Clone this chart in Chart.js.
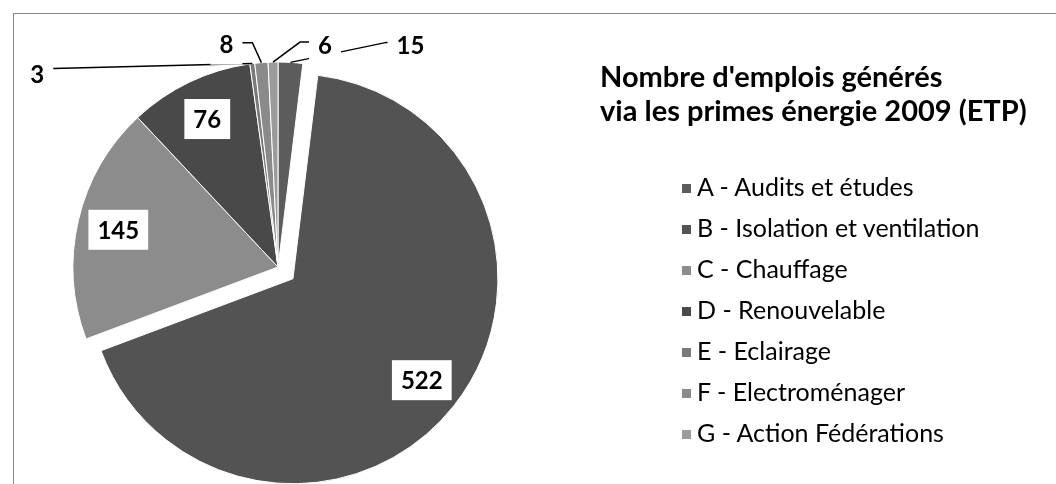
<!DOCTYPE html>
<html>
<head>
<meta charset="utf-8">
<script src="https://cdn.jsdelivr.net/npm/chart.js@4.4.0/dist/chart.umd.min.js"></script>
<style>
  body { margin: 0; background: #fff; }
  #wrap { position: relative; width: 1056px; height: 484px; overflow: hidden; }
  #frame { position: absolute; left: 13px; top: 13px; width: 1200px; height: 700px; border: 1.5px solid #878787; }
  #pie { position: absolute; left: 0; top: 0; }
  #title { position: absolute; left: 600px; top: 59px; font: bold 29px Lato, sans-serif; line-height: 34px; color: #000; white-space: nowrap; }
  #legend { position: absolute; left: 682px; top: 166px; margin: 0; padding: 0; list-style: none; font: 25px Lato, sans-serif; color: #000; }
  #legend li { height: 41px; line-height: 41px; white-space: nowrap; }
  #legend span { display: inline-block; width: 9px; height: 9px; margin-right: 6px; vertical-align: 3px; }
</style>
</head>
<body>
<div id="wrap">
  <div id="frame"></div>
  <canvas id="pie" width="1056" height="484"></canvas>
  <div id="title"></div>
  <ul id="legend"></ul>
</div>
<script>
  // Donnees du graphique
  const categories = [
    'A - Audits et études',
    'B - Isolation et ventilation',
    'C - Chauffage',
    'D - Renouvelable',
    'E - Eclairage',
    'F - Electroménager',
    'G - Action Fédérations'
  ];
  const emplois = [15, 522, 145, 76, 3, 8, 6];
  const titleLines = ["Nombre d'emplois générés", 'via les primes énergie 2009 (ETP)'];

  // Styles
  const colors = ['#5c5c5c', '#535353', '#8c8c8c', '#494949', '#7a7a7a', '#8a8a8a', '#9b9b9b'];
  const explode = [0, 19, 0, 0, 0, 0, 0];
  // etiquettes a l'exterieur : coude et centre du texte, relatifs au bord de la part
  const outside = {
    4: { elbow: [-199, 5], text: [-215, 11] },
    5: { elbow: [-9, -20], text: [-35, -18] },
    6: { elbow: [27, -20], text: [52, -17] },
    0: { elbow: [96, -20], text: [120, -17] }
  };

  document.getElementById('title').innerHTML = titleLines.join('<br>');
  document.getElementById('legend').innerHTML = categories.map((c, i) =>
    '<li><span style="background:' + colors[i] + '"></span>' + c + '</li>').join('');

  // Decaler la part eclatee sans changer son rayon
  const explodePlugin = {
    id: 'explode',
    afterDatasetsUpdate(chart) {
      chart.getDatasetMeta(0).data.forEach((arc, i) => {
        if (!explode[i]) return;
        const mid = (arc.startAngle + arc.endAngle) / 2;
        arc.x += Math.cos(mid) * explode[i];
        arc.y += Math.sin(mid) * explode[i];
      });
    }
  };

  const labelPlugin = {
    id: 'valueLabels',
    afterDatasetsDraw(chart) {
      const ctx = chart.ctx;
      const arcs = chart.getDatasetMeta(0).data;
      ctx.save();
      ctx.font = 'bold 24px Lato, sans-serif';
      ctx.textAlign = 'center';
      ctx.textBaseline = 'middle';

      const spots = arcs.map((arc, i) => {
        const mid = (arc.startAngle + arc.endAngle) / 2;
        const ex = arc.x + Math.cos(mid) * arc.outerRadius;
        const ey = arc.y + Math.sin(mid) * arc.outerRadius;
        const o = outside[i];
        if (o) {
          return { ex, ey, elbow: [ex + o.elbow[0], ey + o.elbow[1]], x: ex + o.text[0], y: ey + o.text[1] };
        }
        return { x: arc.x + Math.cos(mid) * arc.outerRadius * 0.8, y: arc.y + Math.sin(mid) * arc.outerRadius * 0.8 };
      });

      // lignes de rappel
      ctx.strokeStyle = '#000';
      ctx.lineWidth = 1.5;
      spots.forEach(s => {
        if (!s.elbow) return;
        ctx.beginPath();
        ctx.moveTo(s.ex, s.ey);
        ctx.lineTo(s.elbow[0], s.elbow[1]);
        ctx.lineTo(s.x, s.elbow[1]);
        ctx.stroke();
      });

      spots.forEach((s, i) => {
        const txt = String(emplois[i]);
        const w = ctx.measureText(txt).width + 18;
        const h = 40;
        ctx.fillStyle = '#fff';
        ctx.fillRect(s.x - w / 2, s.y - h / 2, w, h);
        ctx.fillStyle = '#000';
        ctx.fillText(txt, s.x, s.y + 1);
      });
      ctx.restore();
    }
  };

  new Chart(document.getElementById('pie'), {
    type: 'pie',
    data: {
      labels: categories,
      datasets: [{
        data: emplois,
        backgroundColor: colors,
        borderColor: '#fff',
        borderWidth: 1
      }]
    },
    options: {
      responsive: false,
      animation: false,
      radius: 205,
      layout: { padding: { left: 60, right: 560, top: 50, bottom: 0 } },
      plugins: {
        legend: { display: false },
        title: { display: false },
        tooltip: { enabled: false }
      }
    },
    plugins: [explodePlugin, labelPlugin]
  });
</script>
</body>
</html>
